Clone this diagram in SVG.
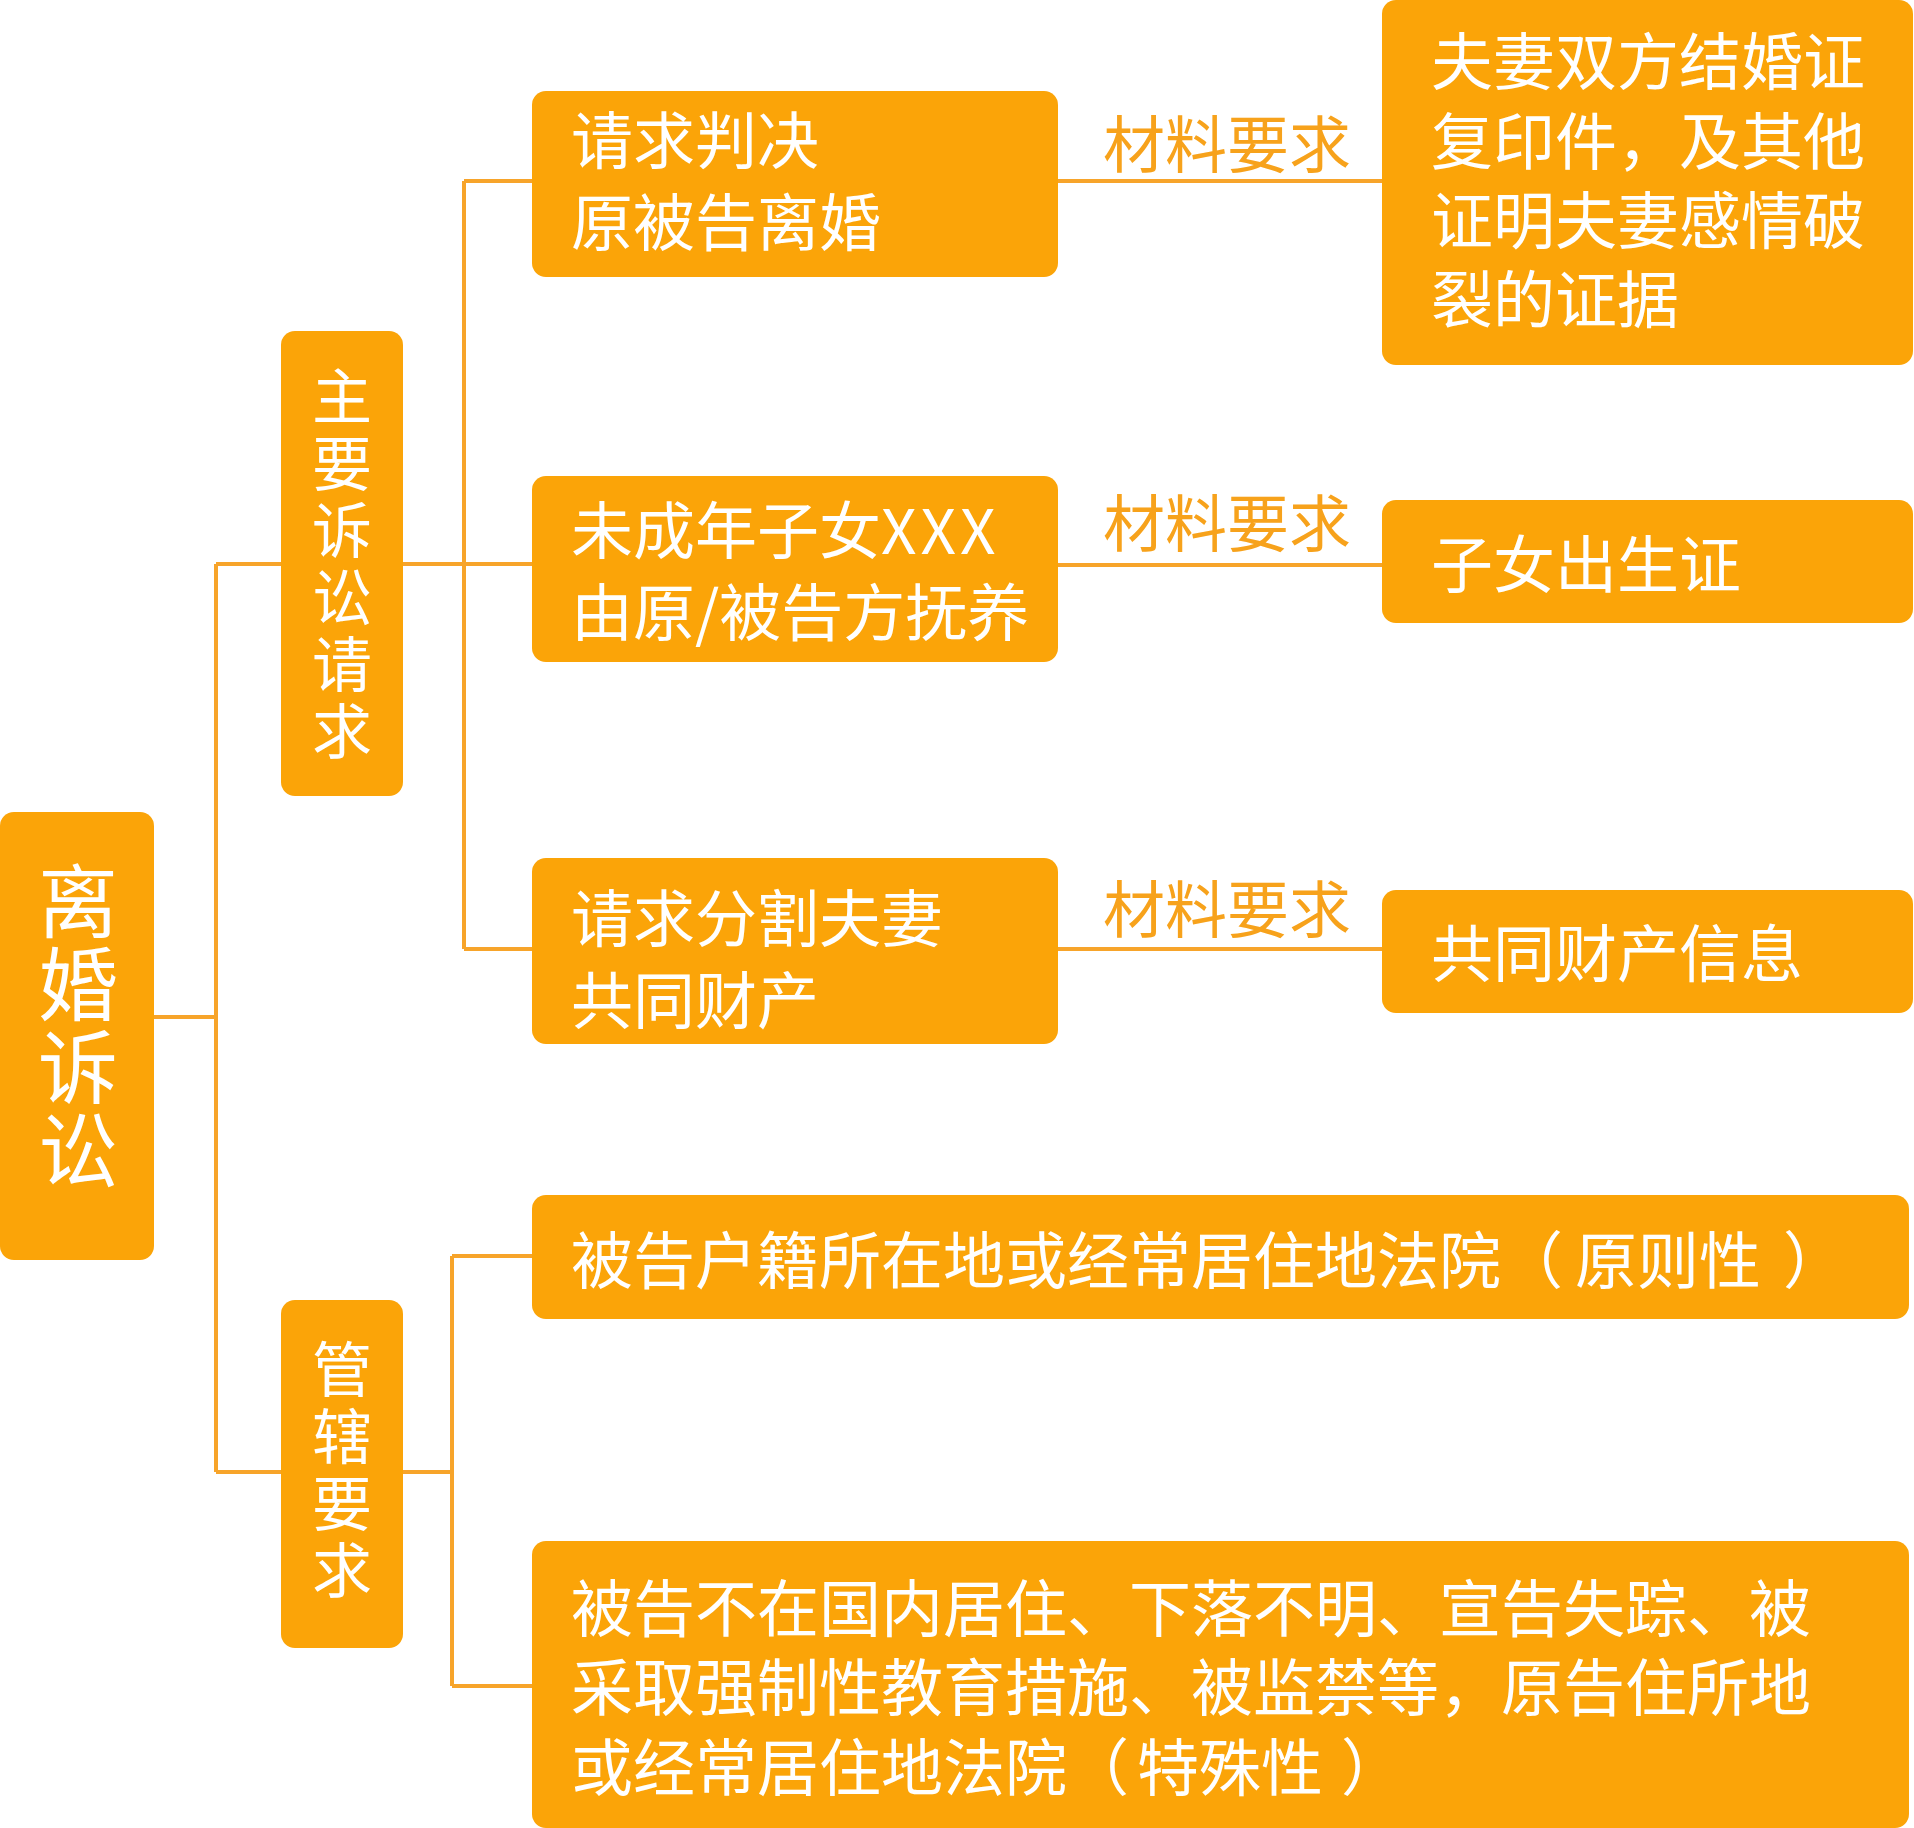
<svg xmlns="http://www.w3.org/2000/svg" width="1914" height="1828" viewBox="0 0 1914 1828">
<style>
.n{fill:#FBA408}
.t{fill:#FFFFFF;font-family:"Noto Sans CJK SC","Noto Sans",sans-serif;font-size:62px}
.v{fill:#FFFFFF;font-family:"Noto Sans CJK SC","Noto Sans",sans-serif;writing-mode:vertical-rl}
.l{fill:#F7A21B;font-family:"Noto Sans CJK SC","Noto Sans",sans-serif;font-size:62px}
.c{stroke:#F7A42A;stroke-width:4;fill:none}
</style>
<rect width="1914" height="1828" fill="#FFFFFF"/>
<g id="connectors">
<path class="c" d="M154 1017H216M216 564V1472M216 564H281M216 1472H281"/>
<path class="c" d="M403 564H532M464 181V949M464 181H532M464 949H532"/>
<path class="c" d="M403 1472H452M452 1256V1686M452 1256H532M452 1686H532"/>
<path class="c" d="M1058 181H1382M1058 565H1382M1058 949H1382"/>
</g>
<g id="label1"><text class="l" x="1103" y="168">材料要求</text></g>
<g id="label2"><text class="l" x="1103" y="547">材料要求</text></g>
<g id="label3"><text class="l" x="1103" y="933">材料要求</text></g>
<g id="root">
<rect class="n" x="0" y="812" width="154" height="448" rx="14"/>
<text class="v" font-size="80" letter-spacing="3" x="78" y="861">离婚诉讼</text>
</g>
<g id="main">
<rect class="n" x="281" y="331" width="122" height="465" rx="14"/>
<text class="v" font-size="60" letter-spacing="7" x="342" y="366">主要诉讼请求</text>
</g>
<g id="juris">
<rect class="n" x="281" y="1300" width="122" height="348" rx="14"/>
<text class="v" font-size="60" letter-spacing="7" x="342" y="1339">管辖要求</text>
</g>
<g id="req1">
<rect class="n" x="532" y="91" width="526" height="186" rx="14"/>
<text class="t"><tspan x="571" y="164">请求判决</tspan><tspan x="571" y="246">原被告离婚</tspan></text>
</g>
<g id="req2">
<rect class="n" x="532" y="476" width="526" height="186" rx="14"/>
<text class="t"><tspan x="571" y="554">未成年子女<tspan letter-spacing="4">XXX</tspan></tspan><tspan x="571" y="636">由原/被告方抚养</tspan></text>
</g>
<g id="req3">
<rect class="n" x="532" y="858" width="526" height="186" rx="14"/>
<text class="t"><tspan x="571" y="942">请求分割夫妻</tspan><tspan x="571" y="1024">共同财产</tspan></text>
</g>
<g id="mat1">
<rect class="n" x="1382" y="0" width="531" height="365" rx="14"/>
<text class="t"><tspan x="1431" y="85">夫妻双方结婚证</tspan><tspan x="1431" y="165">复印件，及其他</tspan><tspan x="1431" y="244">证明夫妻感情破</tspan><tspan x="1431" y="323">裂的证据</tspan></text>
</g>
<g id="mat2">
<rect class="n" x="1382" y="500" width="531" height="123" rx="14"/>
<text class="t" x="1431" y="588">子女出生证</text>
</g>
<g id="mat3">
<rect class="n" x="1382" y="890" width="531" height="123" rx="14"/>
<text class="t" x="1431" y="977">共同财产信息</text>
</g>
<g id="court1">
<rect class="n" x="532" y="1195" width="1377" height="124" rx="14"/>
<text class="t" x="571" y="1284">被告户籍所在地或经常居住地法院（<tspan dx="12">原则性</tspan><tspan dx="22">）</tspan></text>
</g>
<g id="court2">
<rect class="n" x="532" y="1541" width="1377" height="287" rx="14"/>
<text class="t"><tspan x="571" y="1632">被告不在国内居住、下落不明、宣告失踪、被</tspan><tspan x="571" y="1711">采取强制性教育措施、被监禁等，原告住所地</tspan><tspan x="571" y="1791">或经常居住地法院（<tspan dx="8">特殊性</tspan><tspan dx="18">）</tspan></tspan></text>
</g>
</svg>
